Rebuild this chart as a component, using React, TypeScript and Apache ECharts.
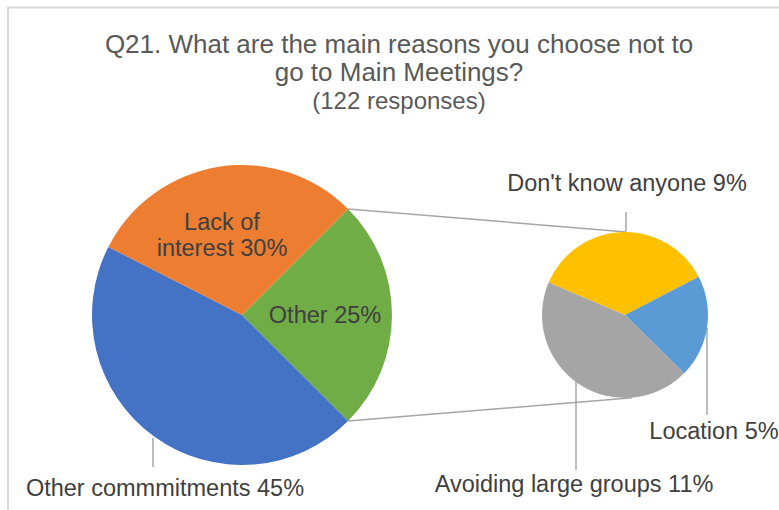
import React, { useEffect, useRef } from "react";
import * as echarts from "echarts";

// ---- data ----
const titleLines = ["Q21. What are the main reasons you choose not to", "go to Main Meetings?"];
const subtitle = "(122 responses)";
const mainCategories = ["Other", "Other commmitments", "Lack of interest"];
const mainValues = [25, 45, 30];
const subCategories = ["Don't know anyone", "Location", "Avoiding large groups"];
const subValues = [9, 5, 11];

// ---- styles / layout ----
const mainColors = ["#70AD47", "#4472C4", "#ED7D31"];
const subColors = ["#FFC000", "#5B9BD5", "#A5A5A5"];
const FONT = "'Liberation Sans', Arial, sans-serif";
const MAIN_C = [242, 315];
const MAIN_R = 150;
const SUB_C = [625, 315];
const SUB_R = 83;
const LINE_COLOR = "#A6A6A6";
const LABEL_COLOR = "#404040";

const wrapMap: Record<string, string> = { "Lack of interest": "Lack of\ninterest" };

// label anchor positions (text centre) and leader-line points
const mainLabelLayout = [
  { x: 325, y: 315 },
  { x: 165, y: 488, line: [[153, 438], [153, 467]] },
  { x: 222, y: 235 },
];
const subLabelLayout = [
  { x: 627, y: 183, line: [[626, 231], [626, 212]] },
  { x: 714, y: 431, line: [[707, 328], [707, 415]] },
  { x: 574, y: 484, line: [[576, 380], [576, 470]] },
];

export default function App() {
  const ref = useRef<HTMLDivElement>(null);
  useEffect(() => {
    if (!ref.current) return;
    const chart = echarts.init(ref.current, null, { renderer: "svg" });
    const mainTotal = mainValues.reduce((a, b) => a + b, 0);
    const halfAngle = (mainValues[0] / mainTotal) * 180; // first slice centred at 0°
    const rad = (halfAngle * Math.PI) / 180;
    const topMain = [MAIN_C[0] + MAIN_R * Math.cos(rad), MAIN_C[1] - MAIN_R * Math.sin(rad)];
    const botMain = [MAIN_C[0] + MAIN_R * Math.cos(rad), MAIN_C[1] + MAIN_R * Math.sin(rad)];
    const a1 = (89 * Math.PI) / 180;
    const a2 = (-85 * Math.PI) / 180;
    const topSub = [SUB_C[0] + SUB_R * Math.cos(a1), SUB_C[1] - SUB_R * Math.sin(a1)];
    const botSub = [SUB_C[0] + SUB_R * Math.cos(a2), SUB_C[1] - SUB_R * Math.sin(a2)];

    const labelFormatter = (p: any) => `${wrapMap[p.name] ?? p.name} ${p.value}%`;
    const labelBase = {
      show: true,
      color: LABEL_COLOR,
      fontSize: 23.5,
      lineHeight: 26,
      fontFamily: FONT,
      align: "center",
      formatter: labelFormatter,
    };

    const makeLayout = (layouts: any[]) => (params: any) => {
      const l = layouts[params.dataIndex];
      const out: any = { x: l.x, y: l.y, align: "center", verticalAlign: "middle" };
      if (l.line) out.labelLinePoints = l.line;
      return out;
    };

    const titleText = (text: string, y: number, size: number) => ({
      type: "text",
      style: {
        text,
        x: 399,
        y,
        textAlign: "center",
        textVerticalAlign: "middle",
        fontSize: size,
        fontFamily: FONT,
        fill: "#595959",
      },
    });

    chart.setOption({
      animation: false,
      backgroundColor: "#ffffff",
      graphic: [
        {
          type: "rect",
          shape: { x: 8, y: 7.5, width: 900, height: 700 },
          style: { fill: "none", stroke: "#D9D9D9", lineWidth: 2 },
          z: 0,
        },
        titleText(titleLines[0], 44, 26),
        titleText(titleLines[1], 72, 26),
        titleText(subtitle, 100, 24),
        {
          type: "line",
          shape: { x1: topMain[0], y1: topMain[1], x2: topSub[0], y2: topSub[1] },
          style: { stroke: LINE_COLOR, lineWidth: 1.5 },
        },
        {
          type: "line",
          shape: { x1: botMain[0], y1: botMain[1], x2: botSub[0], y2: botSub[1] },
          style: { stroke: LINE_COLOR, lineWidth: 1.5 },
        },
      ],
      series: [
        {
          type: "pie",
          center: MAIN_C,
          radius: MAIN_R,
          startAngle: halfAngle,
          clockwise: true,
          avoidLabelOverlap: false,
          itemStyle: { borderWidth: 0 },
          label: labelBase,
          labelLine: { show: true, lineStyle: { color: LINE_COLOR, width: 1.5 }, length: 10, length2: 10 },
          labelLayout: makeLayout(mainLabelLayout),
          data: mainCategories.map((name, i) => ({
            name,
            value: mainValues[i],
            itemStyle: { color: mainColors[i] },
            labelLine: { show: !!mainLabelLayout[i].line },
          })),
        },
        {
          type: "pie",
          center: SUB_C,
          radius: SUB_R,
          startAngle: 157,
          clockwise: true,
          avoidLabelOverlap: false,
          itemStyle: { borderWidth: 0 },
          label: labelBase,
          labelLine: { show: true, lineStyle: { color: LINE_COLOR, width: 1.5 }, length: 10, length2: 10 },
          labelLayout: makeLayout(subLabelLayout),
          data: subCategories.map((name, i) => ({
            name,
            value: subValues[i],
            itemStyle: { color: subColors[i] },
          })),
        },
      ],
    });
    return () => chart.dispose();
  }, []);
  return (
    <div
      ref={ref}
      style={{ position: "fixed", left: 0, top: 0, width: 779, height: 510, background: "#fff" }}
    />
  );
}
